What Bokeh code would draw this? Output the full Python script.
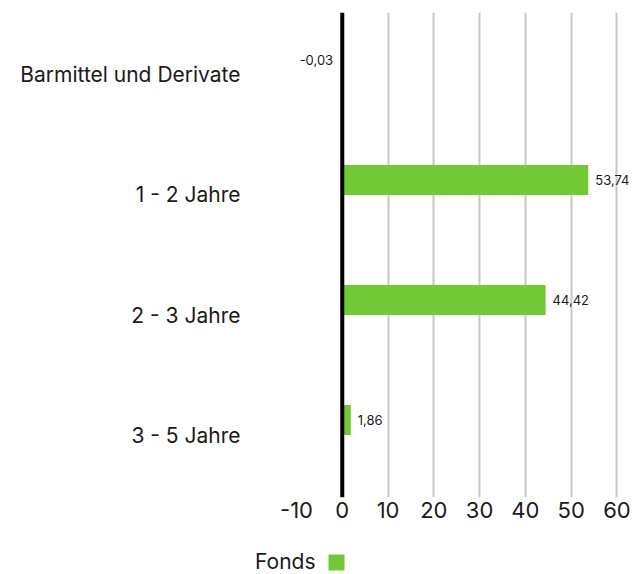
from bokeh.plotting import figure
from bokeh.layouts import column, row
from bokeh.models import (FactorRange, Range1d, FixedTicker, Span, ColumnDataSource,
                          LabelSet, Legend, LegendItem)
from bokeh.core.properties import value
from bokeh.transform import dodge
from bokeh.embed import file_html
from bokeh.resources import INLINE

categories = ["Barmittel und Derivate", "1 - 2 Jahre", "2 - 3 Jahre", "3 - 5 Jahre"]
fonds = [-0.03, 53.74, 44.42, 1.86]
value_labels = ["-0,03", "53,74", "44,42", "1,86"]
x_ticks = [-10, 0, 10, 20, 30, 40, 50, 60]
x_tick_labels = ["-10", "0", "10", "20", "30", "40", "50", "60"]
grid_ticks = [10, 20, 30, 40, 50, 60]
series_name = "Fonds"

FONT = "Inter"
GREEN = "#73C935"
TEXT = "#1a1a1a"

src = ColumnDataSource(dict(
    cat=categories,
    val=fonds,
    lab=value_labels,
    align=["left" if v >= 0 else "right" for v in fonds],
    xoff=[7 if v >= 0 else -9 for v in fonds],
))

p = figure(width=632, height=540, output_backend="svg", toolbar_location=None,
           y_range=FactorRange(factors=categories[::-1], range_padding=0.01),
           x_range=Range1d(-10, 63.4),
           min_border_left=296, min_border_right=0, min_border_top=12,
           min_border_bottom=43)
p.outline_line_color = None
p.background_fill_color = "white"
p.border_fill_color = "white"

bars = p.hbar(y=dodge("cat", 0.125, range=p.y_range), left=0, right="val",
              height=0.25, color=GREEN, line_color=None, source=src)

p.add_layout(LabelSet(x="val", y=dodge("cat", 0.125, range=p.y_range), text="lab",
                      source=src, text_align="align", x_offset="xoff",
                      text_baseline="middle", text_font=value(FONT),
                      text_font_size="13px", text_color=TEXT))

p.add_layout(Span(location=0, dimension="height", line_color="black", line_width=4))

# grid
p.ygrid.grid_line_color = None
p.xgrid.ticker = FixedTicker(ticks=grid_ticks)
p.xgrid.grid_line_color = "#c8c8c8"
p.xgrid.grid_line_width = 2

# x axis
p.xaxis.ticker = FixedTicker(ticks=x_ticks)
p.xaxis.major_label_overrides = {t: s for t, s in zip(x_ticks, x_tick_labels)}
p.xaxis.axis_line_color = None
p.xaxis.major_tick_line_color = None
p.xaxis.minor_tick_line_color = None
p.xaxis.major_tick_out = 0
p.xaxis.major_tick_in = 0
p.xaxis.major_label_standoff = 4
p.xaxis.major_label_text_font = FONT
p.xaxis.major_label_text_font_size = "22px"
p.xaxis.major_label_text_color = TEXT

# y axis
p.yaxis.axis_line_color = None
p.yaxis.major_tick_line_color = None
p.yaxis.minor_tick_line_color = None
p.yaxis.major_tick_out = 0
p.yaxis.major_tick_in = 0
p.yaxis.major_label_standoff = 56
p.yaxis.major_label_text_font = FONT
p.yaxis.major_label_text_font_size = "21px"
p.yaxis.major_label_text_color = TEXT

# separate strip for the legend (series name to the left of the swatch)
pl = figure(width=632, height=34, output_backend="svg", toolbar_location=None,
            x_range=Range1d(0, 1), y_range=Range1d(0, 1),
            x_axis_type=None, y_axis_type=None, min_border=0)
pl.outline_line_color = None
pl.grid.visible = False
# zero-size proxies: they only supply the legend glyphs
blank = pl.hbar(y="val", left=0, right=0, height=0, fill_alpha=0, line_alpha=0,
                source=src)
swatch = pl.hbar(y="val", left=0, right=0, height=0, color=GREEN, line_color=None,
                 source=src)

legend = Legend(items=[LegendItem(label=series_name, renderers=[blank]),
                       LegendItem(label=" ", renderers=[swatch])],
                orientation="horizontal",
                location=(235, 0), padding=0, margin=0, spacing=10,
                glyph_width=20, glyph_height=20, label_height=20, label_width=1,
                label_standoff=0, border_line_color=None,
                background_fill_alpha=0,
                label_text_font=FONT, label_text_font_size="21px",
                label_text_color=TEXT)
pl.add_layout(legend, "center")

layout = column(p, row(pl, spacing=0), spacing=0)
open("out.html", "w").write(file_html(layout, INLINE))
